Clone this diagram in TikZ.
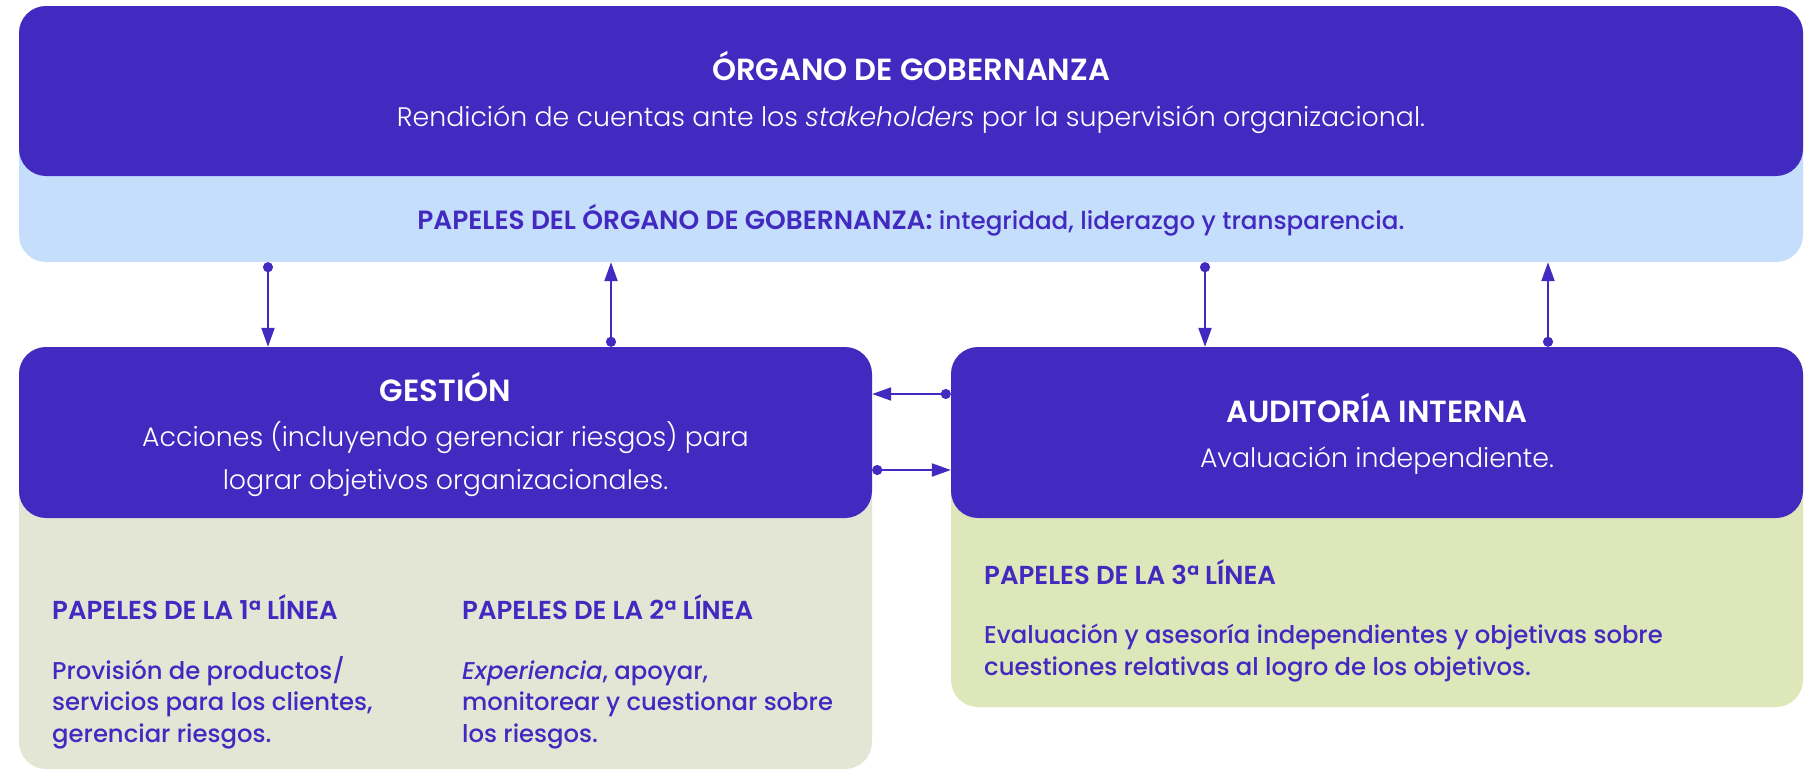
\documentclass[tikz,border=0pt]{standalone}
\usepackage{fontspec}
\setmainfont{Poppins}
\newfontfamily\plight{Poppins Light}[ItalicFont={Poppins Light Italic}]
\newfontfamily\pmed{Poppins Medium}[ItalicFont={Poppins Medium Italic}]
\newfontfamily\psemi{Poppins SemiBold}
\usetikzlibrary{arrows.meta}
\definecolor{dark}{HTML}{4229C0}
\definecolor{lblue}{HTML}{C4DEFC}
\definecolor{lgrey}{HTML}{E4E6D5}
\definecolor{lgreen}{HTML}{DDE7B9}
\tikzset{
  darkbox/.style={rectangle, rounded corners=27pt, fill=dark, inner sep=0pt},
  lightbox/.style={rectangle, rounded corners=27pt, inner sep=0pt},
  head/.style={text=white, font=\psemi\fontsize{30.6}{34}\selectfont, inner sep=0pt, anchor=base},
  wsub/.style={text=white, font=\plight\fontsize{26.8}{43}\selectfont, inner sep=0pt, align=center, anchor=base},
  lhead/.style={text=dark, font=\psemi\fontsize{26}{31.5}\selectfont, inner sep=0pt, anchor=base west},
  lbody/.style={text=dark, font=\pmed\fontsize{24.3}{31.5}\selectfont, inner sep=0pt, align=left, anchor=base west},
  conn/.style={draw=dark, line width=2.2pt, {Circle[length=10pt,width=10pt]}-{Triangle[length=19pt,width=13pt]}},
}
\begin{document}
\begin{tikzpicture}[x=1pt,y=-1pt]
\useasboundingbox (0,0) rectangle (1811,771);
% boxes
\node[lightbox, fill=lblue, minimum width=1784pt, minimum height=256pt] (govr) at (911,134) {};
\node[darkbox, minimum width=1784pt, minimum height=170pt] (gov) at (911,91) {};
\node[lightbox, fill=lgrey, minimum width=853pt, minimum height=422pt] (gestr) at (445.5,558) {};
\node[darkbox, minimum width=853pt, minimum height=171pt] (gest) at (445.5,432.5) {};
\node[lightbox, fill=lgreen, minimum width=852pt, minimum height=360pt] (audr) at (1377,527) {};
\node[darkbox, minimum width=852pt, minimum height=171pt] (aud) at (1377,432.5) {};
% texts (multi-line nodes are placed at the baseline of their last line)
\node[head] (govh) at (911,80) {ÓRGANO DE GOBERNANZA};
\node[wsub] (govs) at (911,126) {Rendición de cuentas ante los \textit{stakeholders} por la supervisión organizacional.};
\node[text=dark, inner sep=0pt, anchor=base] (govl) at (911,229) {{\psemi\fontsize{26.4}{30}\selectfont PAPELES DEL ÓRGANO DE GOBERNANZA:}{\pmed\fontsize{24.6}{30}\selectfont\ integridad, liderazgo y transparencia.}};
\node[head] (gesth) at (445.5,401) {GESTIÓN};
\node[wsub] (gests) at (445.5,489) {Acciones (incluyendo gerenciar riesgos) para\\ lograr objetivos organizacionales.};
\node[head] (audh) at (1377,422) {AUDITORÍA INTERNA};
\node[wsub] (auds) at (1377,467) {Avaluación independiente.};
\node[lhead] (l1h) at (52,619) {PAPELES DE LA 1ª LÍNEA};
\node[lbody] (l1b) at (52,742) {Provisión de productos/\\ servicios para los clientes,\\ gerenciar riesgos.};
\node[lhead] (l2h) at (462,619) {PAPELES DE LA 2ª LÍNEA};
\node[lbody] (l2b) at (462,742) {\textit{Experiencia}, apoyar,\\ monitorear y cuestionar sobre\\ los riesgos.};
\node[lhead] (l3h) at (984,584) {PAPELES DE LA 3ª LÍNEA};
\node[lbody] (l3b) at (984,675) {Evaluación y asesoría independientes y objetivas sobre\\ cuestiones relativas al logro de los objetivos.};
% connectors
\coordinate (xa) at (268,0);
\coordinate (xb) at (611,0);
\coordinate (xc) at (1205,0);
\coordinate (xd) at (1548,0);
\coordinate (yu) at (0,394);
\coordinate (yl) at (0,470);
\draw[conn] (xa |- govr.south) -- (xa |- gest.north);
\draw[conn] (xb |- gest.north) -- (xb |- govr.south);
\draw[conn] (xc |- govr.south) -- (xc |- aud.north);
\draw[conn] (xd |- aud.north) -- (xd |- govr.south);
\draw[conn] (aud.west |- yu) -- (gest.east |- yu);
\draw[conn] (gest.east |- yl) -- (aud.west |- yl);
\end{tikzpicture}
\end{document}
